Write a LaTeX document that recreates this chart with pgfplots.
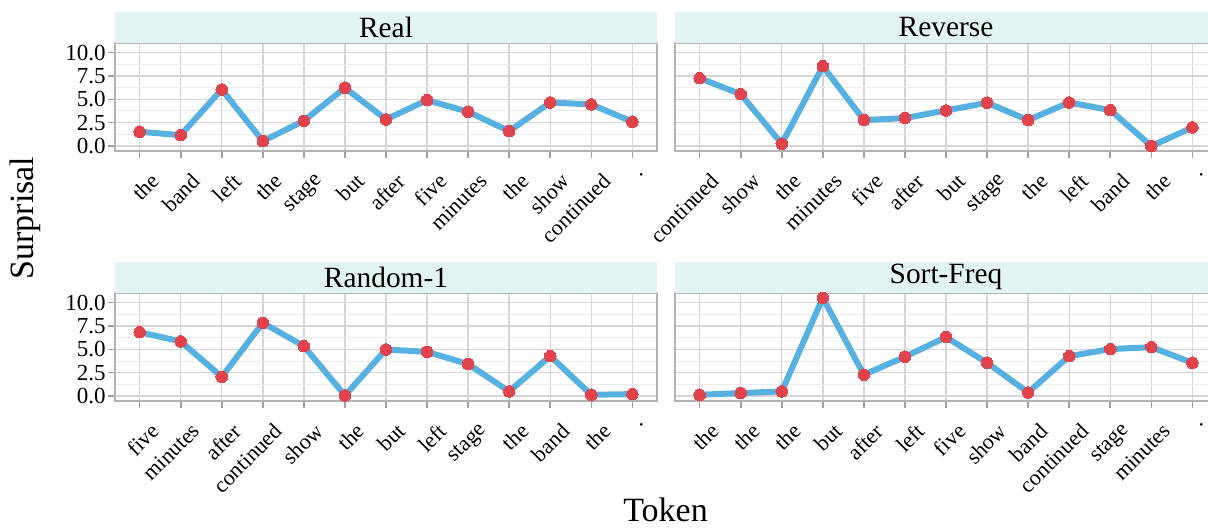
\documentclass[border=0pt]{standalone}
\usepackage{pgfplots}
\pgfplotsset{compat=1.18}
\usepackage{fontspec}
\setmainfont{Liberation Serif}
\definecolor{stripcol}{HTML}{E1F3F3}
\definecolor{linecol}{HTML}{56B0E0}
\definecolor{ptcol}{HTML}{E0434B}
\definecolor{bordercol}{HTML}{B3B3B3}
\definecolor{majgrid}{HTML}{D6D6D6}
\definecolor{mingrid}{HTML}{EBEBEB}
\definecolor{tickcol}{HTML}{A0A0A0}
\tikzset{strip/.style={fill=stripcol, anchor=south, minimum width=271pt, minimum height=15.5pt, inner sep=0pt, font=\fontsize{14.7}{15}\selectfont}}
\pgfplotsset{
  facet/.style={
    scale only axis, width=271pt, height=54pt,
    xmin=-0.6, xmax=12.6, ymin=-0.525, ymax=11.02,
    xtick={0,...,12}, ytick={0,2.5,5,7.5,10},
    minor ytick={1.25,3.75,6.25,8.75},
    grid=both,
    major grid style={majgrid, line width=0.7pt},
    minor grid style={mingrid, line width=0.5pt},
    axis line style={bordercol, line width=0.7pt},
    tick align=outside, major tick length=3.5pt, minor tick length=0pt,
    tick style={tickcol, line width=0.8pt},
    xtick pos=bottom, ytick pos=left,
    x tick label style={font=\fontsize{11}{12}\selectfont, xshift=5pt, yshift=-6pt, rotate=45, anchor=north east, inner sep=0.5pt},
    y tick label style={font=\fontsize{11.5}{12}\selectfont, inner sep=1pt},
    yticklabel style={/pgf/number format/.cd, fixed, fixed zerofill, precision=1},
    /pgf/number format/assume math mode=true,
    clip=false,
  },
  rightfacet/.style={yticklabels={}, ytick style={draw=none}},
  series/.style={linecol, line width=3pt, mark=*, mark size=2.9pt, mark options={fill=ptcol, draw=ptcol, line width=0pt}},
}
\begin{document}
\begin{tikzpicture}
\useasboundingbox (0,0) rectangle (604pt,264pt);
% Real
\begin{axis}[facet, at={(57.5pt,188.5pt)}, anchor=south west,
  xticklabels={the,band,left,the,stage,but,after,five,minutes,the,show,continued,.}]
\addplot[series] coordinates {(0,1.53) (1,1.17) (2,6.05) (3,0.53) (4,2.70) (5,6.23) (6,2.85) (7,4.91) (8,3.67) (9,1.60) (10,4.66) (11,4.45) (12,2.60)};
\node[strip] at (rel axis cs:0.5,1) {Real};
\end{axis}
% Reverse
\begin{axis}[facet, rightfacet, at={(337.5pt,188.5pt)}, anchor=south west,
  xticklabels={continued,show,the,minutes,five,after,but,stage,the,left,band,the,.}]
\addplot[series] coordinates {(0,7.26) (1,5.55) (2,0.25) (3,8.54) (4,2.78) (5,2.99) (6,3.81) (7,4.63) (8,2.78) (9,4.66) (10,3.84) (11,0.0) (12,1.99)};
\node[strip] at (rel axis cs:0.5,1) {Reverse};
\end{axis}
% Random-1
\begin{axis}[facet, at={(57.5pt,63.5pt)}, anchor=south west,
  xticklabels={five,minutes,after,continued,show,the,but,left,stage,the,band,the,.}]
\addplot[series] coordinates {(0,6.83) (1,5.84) (2,2.06) (3,7.83) (4,5.34) (5,0.07) (6,4.98) (7,4.73) (8,3.42) (9,0.50) (10,4.27) (11,0.14) (12,0.21)};
\node[strip] at (rel axis cs:0.5,1) {Random-1};
\end{axis}
% Sort-Freq
\begin{axis}[facet, rightfacet, at={(337.5pt,63.5pt)}, anchor=south west,
  xticklabels={the,the,the,but,after,left,five,show,band,continued,stage,minutes,.}]
\addplot[series] coordinates {(0,0.14) (1,0.32) (2,0.50) (3,10.50) (4,2.28) (5,4.20) (6,6.30) (7,3.56) (8,0.39) (9,4.27) (10,5.02) (11,5.23) (12,3.56)};
\node[strip] at (rel axis cs:0.5,1) {Sort-Freq};
\end{axis}
\node[rotate=90, font=\fontsize{17}{18}\selectfont] at (12.5pt,155pt) {Surprisal};
\node[anchor=base, font=\fontsize{17}{18}\selectfont] at (332.75pt,3pt) {Token};
\end{tikzpicture}
\end{document}
